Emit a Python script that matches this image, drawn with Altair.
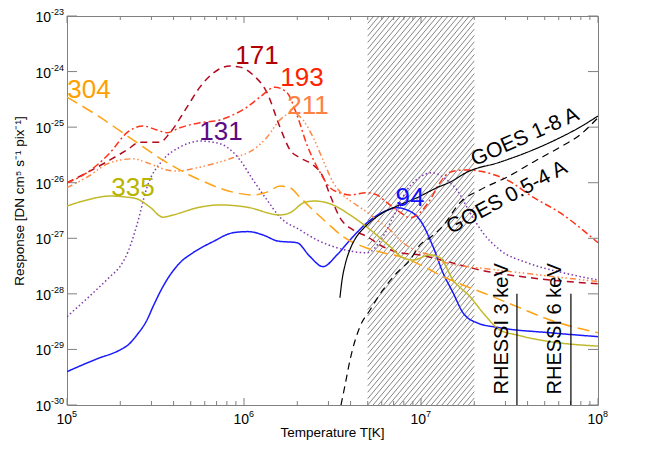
import altair as alt
import pandas as pd
import numpy as np

# ---- curve values (log10 T, log10 response) ----
t94 = [5.0, 5.169, 5.299, 5.345, 5.395, 5.452, 5.486, 5.542, 5.638, 5.712, 5.825, 5.938, 6.023, 6.107, 6.192, 6.299, 6.373, 6.446, 6.525, 6.599, 6.695, 6.785, 6.864, 6.921, 6.994, 7.068, 7.124, 7.181, 7.237, 7.316, 7.446, 7.729, 8.0]
r94 = [-29.40, -29.17, -29.01, -28.92, -28.74, -28.47, -28.23, -27.87, -27.44, -27.26, -27.06, -26.90, -26.88, -26.94, -27.05, -27.08, -27.33, -27.51, -27.30, -27.03, -26.72, -26.53, -26.45, -26.49, -26.67, -27.15, -27.62, -27.98, -28.34, -28.52, -28.61, -28.70, -28.77]

t335 = [5.0, 5.113, 5.243, 5.339, 5.395, 5.469, 5.542, 5.599, 5.751, 5.864, 6.017, 6.203, 6.260, 6.345, 6.401, 6.503, 6.599, 6.695, 6.825, 6.898, 6.955, 7.051, 7.107, 7.181, 7.277, 7.350, 7.446, 7.542, 7.729, 8.0]
r335 = [-26.42, -26.31, -26.24, -26.26, -26.29, -26.44, -26.62, -26.58, -26.44, -26.40, -26.44, -26.58, -26.54, -26.35, -26.33, -26.40, -26.58, -26.80, -27.15, -27.35, -27.39, -27.30, -27.35, -27.75, -28.05, -28.34, -28.65, -28.74, -28.86, -28.94]

t131 = [5.0, 5.243, 5.299, 5.345, 5.395, 5.452, 5.542, 5.638, 5.751, 5.825, 5.904, 5.977, 6.051, 6.130, 6.203, 6.316, 6.412, 6.525, 6.695, 6.785, 6.842, 6.921, 6.994, 7.062, 7.124, 7.203, 7.277, 7.350, 7.446, 7.599, 7.802, 8.0]
r131 = [-28.41, -27.69, -27.51, -27.24, -26.76, -26.08, -25.59, -25.36, -25.25, -25.27, -25.36, -25.59, -25.95, -26.31, -26.62, -26.85, -27.03, -27.17, -27.26, -26.97, -26.62, -26.13, -25.90, -25.82, -25.90, -26.13, -26.54, -26.90, -27.21, -27.44, -27.62, -27.75]

t171 = [5.0, 5.113, 5.243, 5.339, 5.412, 5.525, 5.582, 5.678, 5.751, 5.825, 5.921, 5.977, 6.051, 6.130, 6.203, 6.260, 6.316, 6.390, 6.441, 6.486, 6.542, 6.616, 6.695, 6.785, 6.881, 6.994, 7.090, 7.333, 7.616, 8.0]
r171 = [-26.00, -25.82, -25.59, -25.41, -25.27, -25.27, -25.10, -24.64, -24.28, -24.03, -23.90, -23.92, -24.06, -24.38, -25.00, -25.41, -25.55, -25.68, -25.86, -26.22, -26.63, -26.85, -26.97, -27.15, -27.26, -27.30, -27.37, -27.57, -27.71, -27.82]

t193 = [5.0, 5.113, 5.243, 5.339, 5.429, 5.508, 5.565, 5.638, 5.751, 5.864, 5.938, 6.017, 6.090, 6.175, 6.243, 6.299, 6.356, 6.429, 6.486, 6.542, 6.599, 6.695, 6.751, 6.808, 6.881, 6.938, 6.994, 7.051, 7.107, 7.164, 7.249, 7.373, 7.486, 7.633, 7.785, 8.0]
r193 = [-26.00, -25.82, -25.46, -25.10, -24.98, -25.05, -25.10, -25.01, -24.92, -24.87, -24.78, -24.64, -24.46, -24.28, -24.38, -24.78, -25.32, -25.81, -26.09, -26.18, -26.22, -26.18, -26.22, -26.36, -26.53, -26.63, -26.54, -26.31, -26.00, -25.81, -25.77, -25.82, -25.95, -26.26, -26.54, -27.08]

t211 = [5.0, 5.113, 5.243, 5.373, 5.452, 5.565, 5.621, 5.751, 5.938, 6.051, 6.130, 6.203, 6.277, 6.333, 6.390, 6.446, 6.503, 6.559, 6.616, 6.695, 6.751, 6.825, 6.898, 6.977, 7.051, 7.107, 7.429, 7.616, 8.0]
r211 = [-26.09, -25.90, -25.64, -25.57, -25.64, -25.77, -25.79, -25.72, -25.55, -25.41, -25.18, -24.87, -24.74, -24.87, -25.18, -25.59, -25.99, -26.22, -26.36, -26.53, -26.67, -26.85, -27.08, -27.23, -27.30, -27.41, -27.57, -27.64, -27.78]

t304 = [5.0, 5.186, 5.373, 5.565, 5.751, 5.938, 6.051, 6.130, 6.203, 6.260, 6.316, 6.373, 6.469, 6.559, 6.672, 6.785, 6.881, 7.011, 7.124, 7.237, 7.350, 7.542, 7.729, 8.0]
r304 = [-24.46, -24.82, -25.23, -25.64, -25.95, -26.17, -26.22, -26.17, -26.06, -26.09, -26.26, -26.44, -26.72, -26.97, -27.15, -27.26, -27.33, -27.50, -27.69, -27.84, -27.98, -28.23, -28.47, -28.70]

tg18 = [6.542, 6.554, 6.571, 6.599, 6.630, 6.667, 6.712, 6.785, 6.864, 6.977, 7.090, 7.164, 7.260, 7.446, 7.633, 7.785, 7.898, 8.0]
rg18 = [-28.07, -27.75, -27.48, -27.20, -27.00, -26.85, -26.71, -26.54, -26.42, -26.27, -26.09, -25.99, -25.81, -25.63, -25.41, -25.19, -25.00, -24.80]

tg054 = [6.548, 6.571, 6.599, 6.655, 6.712, 6.785, 6.864, 6.938, 6.994, 7.051, 7.124, 7.220, 7.333, 7.486, 7.633, 7.785, 7.898, 8.0]
rg054 = [-30.0, -29.64, -29.19, -28.59, -28.29, -27.93, -27.62, -27.39, -27.12, -26.99, -26.78, -26.36, -26.13, -25.90, -25.63, -25.36, -25.14, -24.83]

series_names = ["94", "131", "171", "193", "211", "304", "335"]
series_t = [t94, t131, t171, t193, t211, t304, t335]
series_r = [r94, r131, r171, r193, r211, r304, r335]
series_colors = ["#1a1aff", "#7e38ad", "#b40a1e", "#ff3318", "#ff8844", "#ffa314", "#c2b92a"]
series_dash = [[1, 0], [1.5, 2.5], [7, 5], [7, 3, 2, 3], [6, 3, 1.5, 2.5, 1.5, 2.5, 1.5, 3], [12, 6], [1, 0]]

goes_names = ["GOES 1-8 A", "GOES 0.5-4 A"]
goes_t = [tg18, tg054]
goes_r = [rg18, rg054]
goes_dash = [[1, 0], [7, 5]]

# annotation labels (data-space anchors)
lab_text = ["171", "193", "211", "304", "131", "335", "94"]
lab_t = [6.073, 6.328, 6.362, 5.124, 5.870, 5.373, 6.938]
lab_r = [-23.72, -24.115, -24.62, -24.33, -25.09, -26.09, -26.27]
lab_col = ["#b00000", "#ff2200", "#ff8040", "#ffa000", "#5c0a82", "#b8b400", "#1010ff"]

goes_lab_t = [7.588, 7.486]
goes_lab_r = [-25.18, -26.27]
goes_lab_angle = [336, 332]

rhessi_text = ["RHESSI 3 keV", "RHESSI 6 keV"]
rhessi_t = [7.542, 7.847]
rhessi_lab_t = [7.458, 7.757]
rhessi_lab_r = -28.63
rhessi_top = -28.0

hatch_lo, hatch_hi = 5e6, 2e7

xmaj = [5, 6, 7, 8]
ymaj = [-30, -29, -28, -27, -26, -25, -24, -23]

W, H = 531, 389
XMIN, XMAX, YMIN, YMAX = 5.0, 8.0, -30.0, -23.0
FONT = "Liberation Sans"

rows = []
for n, ts, rs in zip(series_names, series_t, series_r):
    for a, b in zip(ts, rs):
        rows.append({"s": n, "T": 10 ** a, "R": 10 ** b})
df = pd.DataFrame(rows)

xs = alt.Scale(type="log", domain=[10 ** XMIN, 10 ** XMAX], nice=False)
ys = alt.Scale(type="log", domain=[10 ** YMIN, 10 ** YMAX], nice=False)
X = alt.X("T:Q", scale=xs, axis=None)
Y = alt.Y("R:Q", scale=ys, axis=None)

# hatch lines inside the shaded band (straight in pixel space)
pxx = W / (XMAX - XMIN)
pxy = H / (YMAX - YMIN)
hw = (np.log10(hatch_hi) - np.log10(hatch_lo)) * pxx
slope, gap = 1.2, 5.3
hrows = []
k0 = int(-np.ceil(H / slope / gap)) - 1
k1 = int(np.ceil(hw / gap)) + 1
for k in range(k0, k1):
    u0 = k * gap
    us = max(0.0, u0)
    vs = slope * (us - u0)
    ue = min(hw, u0 + H / slope)
    ve = slope * (ue - u0)
    if ue <= us or vs >= H:
        continue
    hrows.append({"T": 10 ** (np.log10(hatch_lo) + us / pxx), "R": 10 ** (YMIN + vs / pxy),
                  "T2": 10 ** (np.log10(hatch_lo) + ue / pxx), "R2": 10 ** (YMIN + ve / pxy)})
hdf = pd.DataFrame(hrows)
hatch = alt.Chart(hdf).mark_rule(color="#666666", strokeWidth=0.8).encode(
    x=X, y=Y, x2="T2:Q", y2="R2:Q")

lines = alt.Chart(df).mark_line(strokeWidth=1.5, clip=True, interpolate="monotone").encode(
    x=X, y=Y,
    color=alt.Color("s:N", scale=alt.Scale(domain=series_names, range=series_colors), legend=None),
    strokeDash=alt.StrokeDash("s:N", scale=alt.Scale(domain=series_names, range=series_dash), legend=None),
    detail="s:N")

glines = []
for n, ts, rs, dsh in zip(goes_names, goes_t, goes_r, goes_dash):
    d = pd.DataFrame({"T": [10 ** v for v in ts], "R": [10 ** v for v in rs]})
    glines.append(alt.Chart(d).mark_line(strokeWidth=1.2, color="black", clip=True, strokeDash=dsh,
                                         interpolate="monotone").encode(x=X, y=Y))

labdf = pd.DataFrame({"txt": lab_text, "T": [10 ** v for v in lab_t], "R": [10 ** v for v in lab_r], "c": lab_col})
labels = alt.Chart(labdf).mark_text(font=FONT, fontSize=26, align="center", baseline="middle").encode(
    x=X, y=Y, text="txt:N", color=alt.Color("c:N", scale=None))

glabs = []
for txt, a, b, ang in zip(goes_names, goes_lab_t, goes_lab_r, goes_lab_angle):
    d = pd.DataFrame({"txt": [txt], "T": [10 ** a], "R": [10 ** b]})
    glabs.append(alt.Chart(d).mark_text(font=FONT, fontSize=21, angle=ang, align="center",
                                        baseline="middle", color="black").encode(x=X, y=Y, text="txt:N"))

rdf = pd.DataFrame({"T": [10 ** v for v in rhessi_t], "R": [10 ** YMIN] * 2, "R2": [10 ** rhessi_top] * 2})
rrules = alt.Chart(rdf).mark_rule(color="black", strokeWidth=1.2).encode(x=X, y=Y, y2="R2:Q")
rldf = pd.DataFrame({"txt": rhessi_text, "T": [10 ** v for v in rhessi_lab_t], "R": [10 ** rhessi_lab_r] * 2})
rlabs = alt.Chart(rldf).mark_text(font=FONT, fontSize=20, angle=270, align="center", baseline="middle",
                                  color="black").encode(x=X, y=Y, text="txt:N")

# ticks on all four sides
minor_x = [k * 10 ** d for d in range(5, 8) for k in range(2, 10)]
tx_maj = pd.DataFrame({"T": [10 ** v for v in xmaj]})
tx_min = pd.DataFrame({"T": minor_x})
ty_maj = pd.DataFrame({"R": [10 ** v for v in ymaj]})
TC = "#808080"
ticks = [
    alt.Chart(tx_maj).mark_rule(color=TC).encode(x=X, y=alt.value(H), y2=alt.value(H - 7)),
    alt.Chart(tx_min).mark_rule(color=TC).encode(x=X, y=alt.value(H), y2=alt.value(H - 4)),
    alt.Chart(tx_maj).mark_rule(color=TC).encode(x=X, y=alt.value(0), y2=alt.value(7)),
    alt.Chart(tx_min).mark_rule(color=TC).encode(x=X, y=alt.value(0), y2=alt.value(4)),
    alt.Chart(ty_maj).mark_rule(color=TC).encode(y=Y, x=alt.value(0), x2=alt.value(10)),
    alt.Chart(ty_maj).mark_rule(color=TC).encode(y=Y, x=alt.value(W), x2=alt.value(W - 10)),
]

# tick labels 10^n
xl = pd.DataFrame({"T": [10 ** v for v in xmaj], "e": [str(v) for v in xmaj]})
yl = pd.DataFrame({"R": [10 ** v for v in ymaj], "e": [str(v) for v in ymaj]})
ticklabels = [
    alt.Chart(xl).mark_text(font=FONT, fontSize=14, align="right", baseline="alphabetic", dx=5, color="black").encode(
        x=X, y=alt.value(H + 19), text=alt.value("10")),
    alt.Chart(xl).mark_text(font=FONT, fontSize=9, align="left", baseline="alphabetic", dx=5, color="black").encode(
        x=X, y=alt.value(H + 12), text="e:N"),
    alt.Chart(yl).mark_text(font=FONT, fontSize=14, align="right", baseline="middle", dy=2, color="black").encode(
        y=Y, x=alt.value(-16), text=alt.value("10")),
    alt.Chart(yl).mark_text(font=FONT, fontSize=9, align="left", baseline="middle", dy=-4, color="black").encode(
        y=Y, x=alt.value(-16), text="e:N"),
]

one = pd.DataFrame({"a": [0]})
titles = [
    alt.Chart(one).mark_text(font=FONT, fontSize=13.5, align="center", baseline="middle", color="black").encode(
        x=alt.value(W / 2), y=alt.value(H + 28), text=alt.value("Temperature  T[K]")),
    alt.Chart(one).mark_text(font=FONT, fontSize=13.5, align="center", baseline="middle", angle=270,
                             color="black").encode(
        x=alt.value(-47), y=alt.value(185), text=alt.value("Response [DN cm\u2075 s\u207b\u00b9 pix\u207b\u00b9]")),
]

chart = alt.layer(hatch, *ticks, lines, *glines, rrules, labels, *glabs, rlabs, *ticklabels, *titles).properties(
    width=W, height=H,
    padding={"left": 59, "top": 8, "right": 40, "bottom": 40},
    autosize=alt.AutoSizeParams(type="none"),
).configure_view(stroke="#808080", strokeWidth=1)

chart.save("out.html", embed_options={"renderer": "svg", "actions": False})
